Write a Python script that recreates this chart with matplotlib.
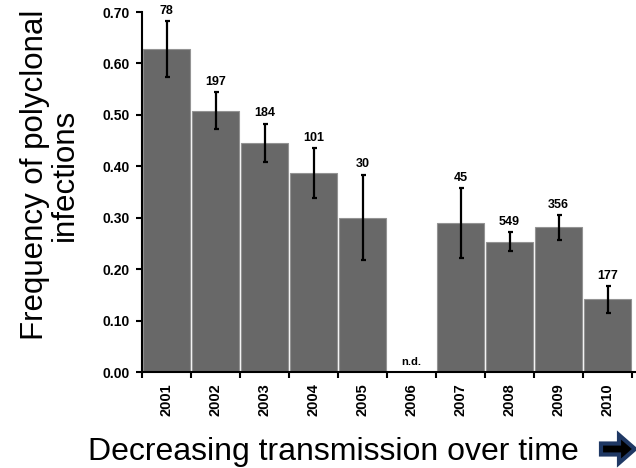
import matplotlib
matplotlib.use("Agg")
import matplotlib.pyplot as plt
from matplotlib.patches import FancyArrow
import numpy as np

years = ["2001", "2002", "2003", "2004", "2005", "2006", "2007", "2008", "2009", "2010"]
freq = [0.629, 0.507, 0.445, 0.386, 0.300, np.nan, 0.289, 0.252, 0.282, 0.142]
err_low = [0.573, 0.472, 0.408, 0.338, 0.217, np.nan, 0.221, 0.235, 0.256, 0.115]
err_high = [0.683, 0.544, 0.483, 0.435, 0.384, np.nan, 0.357, 0.272, 0.305, 0.167]
n_labels = ["78", "197", "184", "101", "30", "n.d.", "45", "549", "356", "177"]
yticks = [0.0, 0.1, 0.2, 0.3, 0.4, 0.5, 0.6, 0.7]

plt.rcParams['font.family'] = ['Liberation Sans', 'DejaVu Sans']

fig = plt.figure(figsize=(6.36, 4.68), dpi=100)
ax = fig.add_axes([142/636, 96/468, (636-142)/636, (372-12)/468])

x = np.arange(len(years)) + 0.5
vals = np.nan_to_num(np.array(freq))
ax.bar(x, vals, width=0.95, color='#686868', edgecolor='#939393', linewidth=0.8, zorder=2)

lo = np.array(err_low); hi = np.array(err_high); f = np.array(freq)
mask = ~np.isnan(f)
ax.errorbar(x[mask], f[mask], yerr=[f[mask]-lo[mask], hi[mask]-f[mask]],
            fmt='none', ecolor='black', elinewidth=1.6, capsize=1.8, capthick=1.6, zorder=3)

for i, lab in enumerate(n_labels):
    if np.isnan(f[i]):
        ax.text(x[i], 0.01, lab, ha='center', va='bottom', fontsize=8, fontweight='bold')
    else:
        ax.text(x[i], hi[i] + 0.008, lab, ha='center', va='bottom', fontsize=9, fontweight='bold')

ax.set_xlim(0, 10.08)
ax.set_ylim(0, 0.70)
ax.set_yticks(yticks)
ax.set_yticklabels([f"{t:.2f}" for t in yticks], fontsize=10, fontweight='bold')
ax.set_xticks(np.arange(0, 11))
ax.set_xticklabels([])
ax.set_xticks(x, minor=True)
ax.set_xticklabels(years, minor=True, rotation=90, fontsize=10.5, fontweight='bold')
ax.tick_params(axis='x', which='minor', length=0, pad=8)
ax.tick_params(axis='x', which='major', length=4, width=1.5, direction='out')
ax.tick_params(axis='y', length=4, width=1.5, direction='out', pad=5)
for s in ['top', 'right']:
    ax.spines[s].set_visible(False)
for s in ['left', 'bottom']:
    ax.spines[s].set_linewidth(1.5)

fig.text(50/636, 1 - 175/468, "Frequency of polyclonal\ninfections", rotation=90,
         ha='center', va='center', fontsize=22.5, linespacing=1.0, multialignment='center')

fig.text(333/636, 1 - 452/468, "Decreasing transmission over time", ha='center', va='center', fontsize=23)

arrow = FancyArrow(601/636, 1 - 449/468, 34/636, 0, width=11/468, head_width=28/468,
                   head_length=16/636, length_includes_head=True, transform=fig.transFigure,
                   facecolor='black', edgecolor='#1f3864', linewidth=3, joinstyle='miter')
fig.patches.append(arrow)

fig.savefig("out.png", dpi=100)
